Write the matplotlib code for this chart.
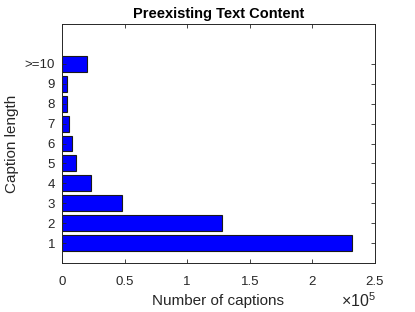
import numpy as np
import matplotlib
matplotlib.use('Agg')
import matplotlib.pyplot as plt

# Caption length distribution
lengths = ['1', '2', '3', '4', '5', '6', '7', '8', '9', '>=10']
counts = [232000, 128000, 48000, 23500, 11500, 7800, 5800, 4300, 3600, 19600]

plt.rcParams['font.family'] = ['Liberation Sans', 'DejaVu Sans']
plt.rcParams['mathtext.fontset'] = 'custom'
plt.rcParams['mathtext.rm'] = 'Liberation Sans'
axcol = '#262626'

fig = plt.figure(figsize=(4.15, 3.12), dpi=100)
ax = fig.add_axes([0.1494, 0.157, 0.7542, 0.766])

pos = np.arange(1, len(lengths) + 1)
ax.barh(pos, counts, height=0.8, color='#0000ff', edgecolor='#1a1a1a', linewidth=0.8)

ax.set_xlim(0, 250000)
ax.set_ylim(0, 12)
ax.set_xticks([0, 50000, 100000, 150000, 200000, 250000])
ax.set_xticklabels(['0', '0.5', '1', '1.5', '2', '2.5'])
ax.set_yticks(pos)
ax.set_yticklabels(lengths)

ax.tick_params(direction='in', top=True, right=True, length=3, width=0.6,
               colors=axcol, labelsize=9.5, pad=5)
ax.tick_params(axis='x', pad=9)
for s in ax.spines.values():
    s.set_color(axcol)
    s.set_linewidth(0.7)

ax.set_xlabel('Number of captions', fontsize=11, color=axcol, labelpad=5)
ax.set_ylabel('Caption length', fontsize=11, color=axcol)
ax.set_title('Preexisting Text Content', fontsize=10.5, fontweight='bold', pad=4)
ax.text(0.89, -0.12, r'$\times\mathrm{10}^{\mathrm{5}}$', transform=ax.transAxes,
        ha='left', va='top', fontsize=11.5, color=axcol)

plt.savefig('out.png', dpi=100)
